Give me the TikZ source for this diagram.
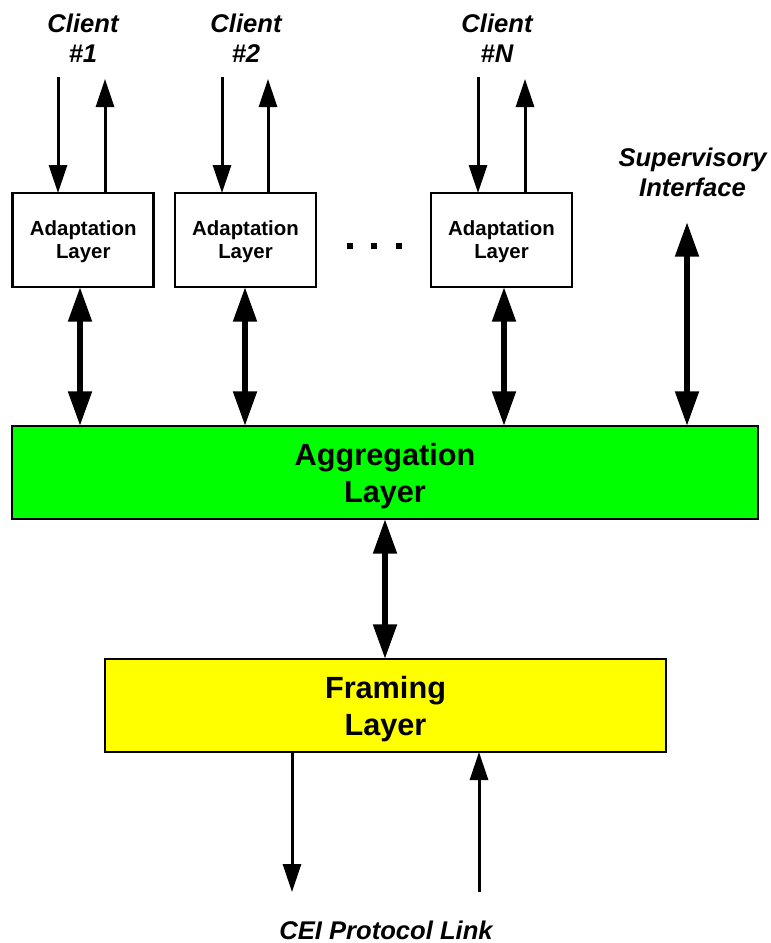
\documentclass[tikz,border=0pt]{standalone}
\usepackage{fontspec}
\setmainfont{Liberation Sans}
\usetikzlibrary{arrows.meta}
\definecolor{agggreen}{RGB}{0,255,0}
\definecolor{frameyellow}{RGB}{255,255,0}
\begin{document}
\begin{tikzpicture}[x=0.75pt,y=-0.75pt,
  adapt/.style={draw=black, line width=2pt, fill=white, outer sep=0pt, minimum width=105.75pt, minimum height=70.5pt, inner sep=0pt, align=center, text depth=0pt, font=\bfseries\fontsize{15.3}{17.25}\selectfont},
  layerbox/.style={draw=black, line width=2pt, outer sep=0pt, minimum height=69.75pt, inner sep=0pt, align=center, text depth=0pt, font=\bfseries\fontsize{23}{27.75}\selectfont},
  lbl/.style={align=center, inner sep=0pt, font=\bfseries\itshape\fontsize{19.2}{22.5}\selectfont},
  thinarrow/.style={line width=2.25pt, -{Triangle[width=13.5pt,length=21pt]}},
  bigarrow/.style={line width=4.5pt, {Triangle[width=17pt,length=26pt]}-{Triangle[width=17pt,length=26pt]}},
  dotsq/.style={fill=black, minimum size=4.5pt, inner sep=0pt}]
\useasboundingbox (0,0) rectangle (771,943);

% adaptation boxes
\node[adapt] (A1) at (83.25,240) {Adaptation\\Layer};
\node[adapt] (A2) at (245.5,240) {Adaptation\\Layer};
\node[adapt] (AN) at (501.5,240) {Adaptation\\Layer};

% dots
\node[dotsq] (d1) at (350,246) {};
\node[dotsq] (d2) at (374,246) {};
\node[dotsq] (d3) at (399,246) {};

% main layers
\node[layerbox, fill=agggreen, minimum width=559.5pt] (Agg) at (385,472.5) {Aggregation\\Layer};
\node[layerbox, fill=frameyellow, minimum width=420.75pt] (Frm) at (385.5,705.5) {Framing\\Layer};

% labels
\node[lbl] (L1) at (83,38) {Client\\\#1};
\node[lbl] (L2) at (246,38) {Client\\\#2};
\node[lbl] (LN) at (497,38) {Client\\\#N};
\node[lbl] (LS) at (692.5,172) {Supervisory\\Interface};
\node[lbl] (LC) at (386,930) {CEI Protocol Link};

% client arrow end points
\coordinate (c1d) at (58,77);
\coordinate (c1u) at (105,79);
\coordinate (c2d) at (222,77);
\coordinate (c2u) at (268,79);
\coordinate (cNd) at (478,77);
\coordinate (cNu) at (525,79);

\draw[thinarrow] (c1d) -- (c1d |- A1.north);
\draw[thinarrow] (c1u |- A1.north) -- (c1u);
\draw[thinarrow] (c2d) -- (c2d |- A2.north);
\draw[thinarrow] (c2u |- A2.north) -- (c2u);
\draw[thinarrow] (cNd) -- (cNd |- AN.north);
\draw[thinarrow] (cNu |- AN.north) -- (cNu);

% bidirectional arrows to aggregation
\coordinate (b1) at (80,0);
\coordinate (b2) at (245,0);
\coordinate (bN) at (504,0);
\coordinate (sup) at (687,222);
\draw[bigarrow] (A1.south -| b1) -- (Agg.north -| b1);
\draw[bigarrow] (A2.south -| b2) -- (Agg.north -| b2);
\draw[bigarrow] (AN.south -| bN) -- (Agg.north -| bN);
\draw[bigarrow] (sup) -- (Agg.north -| sup);

% aggregation to framing
\coordinate (bc) at (385,0);
\draw[bigarrow] (Agg.south -| bc) -- (Frm.north -| bc);

% CEI link arrows
\coordinate (cout) at (292,892);
\coordinate (cin) at (479,892);
\draw[thinarrow] (Frm.south -| cout) -- (cout);
\draw[thinarrow] (cin) -- (Frm.south -| cin);
\end{tikzpicture}
\end{document}
